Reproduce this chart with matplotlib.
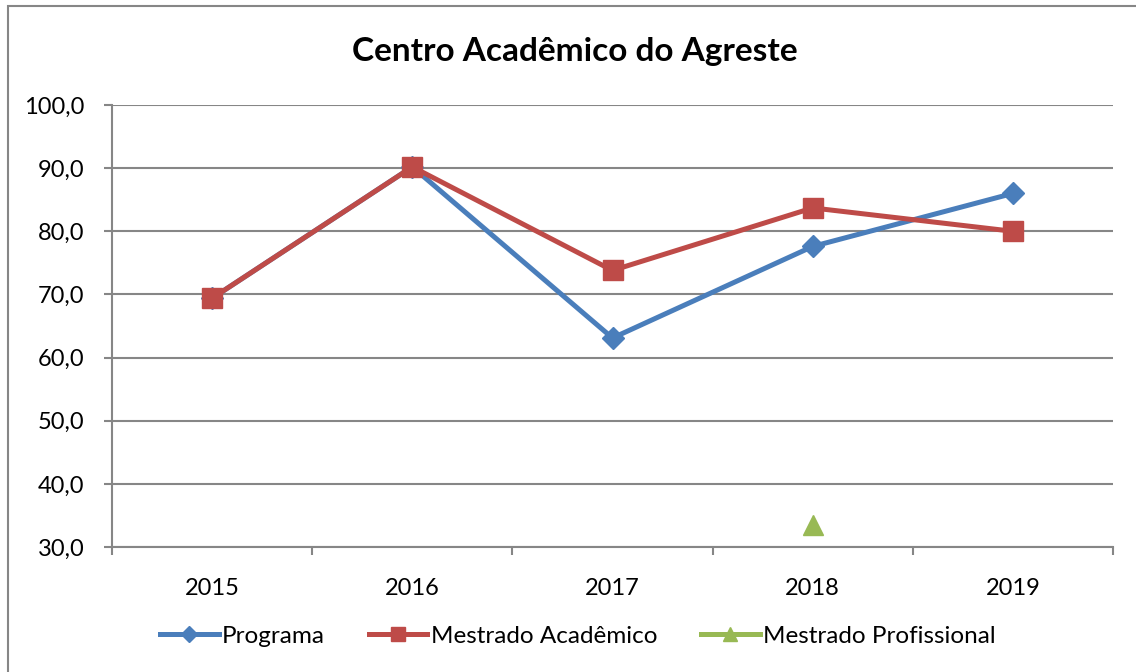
import matplotlib
matplotlib.use("Agg")
import matplotlib.pyplot as plt
from matplotlib.patches import Rectangle
from matplotlib.ticker import FixedLocator

plt.rcParams['font.family'] = ['Lato', 'DejaVu Sans']

years = ["2015", "2016", "2017", "2018", "2019"]
programa = [69.4, 90.2, 63.1, 77.6, 86.0]
mestrado_academico = [69.4, 90.2, 73.8, 83.7, 80.0]
mestrado_profissional = [None, None, None, 33.5, None]
y_ticks = [30, 40, 50, 60, 70, 80, 90, 100]
y_tick_labels = ["30,0", "40,0", "50,0", "60,0", "70,0", "80,0", "90,0", "100,0"]
title = "Centro Acadêmico do Agreste"

W, H = 1136, 672
fig = plt.figure(figsize=(W / 100, H / 100), dpi=100)
fig.patch.set_facecolor("white")

# outer chart border
fig.add_artist(Rectangle((8 / W, 0 - 0.01), 1.1, 1 - 6 / H + 0.01, transform=fig.transFigure,
                         fill=False, edgecolor="#868686", linewidth=1.5))

ax = fig.add_axes([112 / W, 1 - 547 / H, (1113 - 112) / W, (547 - 105) / H])
x = list(range(len(years)))

ax.plot(x, programa, color="#4A7EBB", linewidth=3.6, marker="D", markersize=11,
        markerfacecolor="#4A7EBB", markeredgecolor="#4A7EBB", label="Programa", zorder=3)
ax.plot(x, mestrado_academico, color="#BE4B48", linewidth=3.6, marker="s", markersize=14,
        markerfacecolor="#BE4B48", markeredgecolor="#BE4B48", label="Mestrado Acadêmico", zorder=4)
mp_x = [xi for xi, v in zip(x, mestrado_profissional) if v is not None]
mp_y = [v for v in mestrado_profissional if v is not None]
ax.plot(mp_x, mp_y, color="#98B954", linewidth=3.6, marker="^", markersize=14,
        markerfacecolor="#98B954", markeredgecolor="#98B954", label="Mestrado Profissional", zorder=5)

ax.set_xlim(-0.5, len(years) - 0.5)
ax.set_ylim(30, 100)
ax.set_yticks(y_ticks)
ax.set_yticklabels(y_tick_labels)
ax.set_xticks(x)
ax.set_xticklabels(years)
ax.xaxis.set_minor_locator(FixedLocator([i - 0.5 for i in range(len(years) + 1)]))
ax.tick_params(axis="x", which="major", length=0, pad=22, labelsize=17)
ax.tick_params(axis="x", which="minor", length=6, width=1.5, color="#868686", direction="out")
ax.tick_params(axis="y", which="major", length=6, width=1.5, color="#868686", pad=14, labelsize=17)

ax.grid(axis="y", color="#868686", linewidth=1.5)
ax.set_axisbelow(True)
for side in ["top", "right"]:
    ax.spines[side].set_visible(False)
for side in ["left", "bottom"]:
    ax.spines[side].set_color("#868686")
    ax.spines[side].set_linewidth(1.5)

fig.text(575 / W, 1 - 52 / H, title, ha="center", va="center", fontsize=24, fontweight="bold")

leg = fig.legend(loc="center", bbox_to_anchor=(578 / W, 1 - 636 / H), ncol=3, frameon=False,
                 fontsize=17.5, handlelength=2.4, handletextpad=0.15, columnspacing=1.8,
                 markerscale=0.75)

fig.savefig("out.png", dpi=100)
